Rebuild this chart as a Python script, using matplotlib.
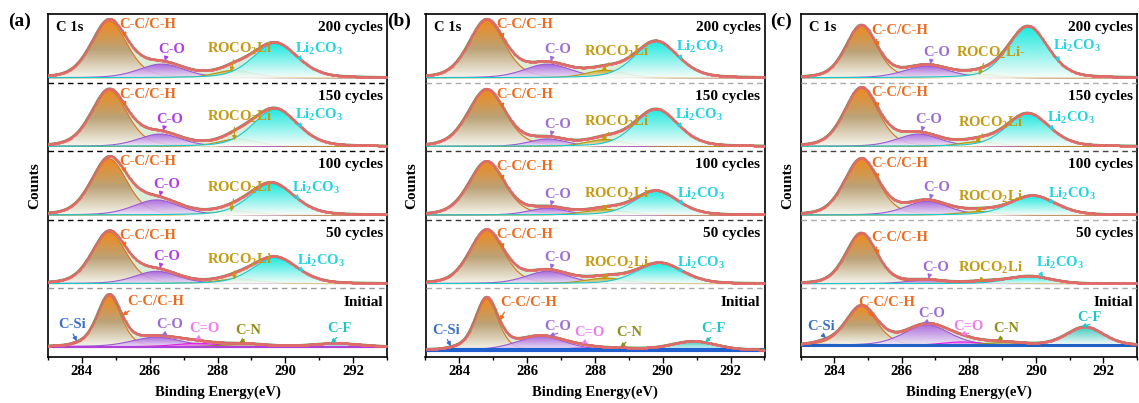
import numpy as np
import matplotlib.pyplot as plt
from matplotlib.colors import LinearSegmentedColormap
from matplotlib.ticker import MultipleLocator

plt.rcParams['font.family'] = 'Liberation Serif'
plt.rcParams['font.weight'] = 'bold'
plt.rcParams['axes.labelweight'] = 'bold'
plt.rcParams['mathtext.fontset'] = 'custom'
plt.rcParams['mathtext.rm'] = 'Liberation Serif:bold'
plt.rcParams['mathtext.it'] = 'Liberation Serif:bold'
plt.rcParams['mathtext.bf'] = 'Liberation Serif:bold'

# binding energy axis (eV)
be = np.linspace(283, 293, 600)

cycles = ['200 cycles', '150 cycles', '100 cycles', '50 cycles']
cyc_peaks = ['C-C/C-H', 'C-O', 'ROCO$_2$Li', 'Li$_2$CO$_3$']
init_peaks = ['C-Si', 'C-C/C-H', 'C-O', 'C=O', 'C-N', 'C-F']

# fitted components, rows = 200 / 150 / 100 / 50 cycles
# columns = C-C/C-H, C-O, ROCO2Li, Li2CO3
pos_a = [[284.8, 286.35, 288.5, 289.7],
         [284.8, 286.3, 288.6, 289.7],
         [284.8, 286.2, 288.5, 289.6],
         [284.8, 286.2, 288.6, 289.7]]
height_a = [[0.83, 0.20, 0.11, 0.50],
            [0.82, 0.18, 0.11, 0.54],
            [0.82, 0.22, 0.06, 0.46],
            [0.75, 0.18, 0.07, 0.38]]
fwhm_a = [[1.25, 1.6, 1.3, 1.55],
          [1.25, 1.5, 1.3, 1.55],
          [1.25, 1.6, 1.4, 1.55],
          [1.2, 1.5, 1.4, 1.55]]

pos_b = [[284.8, 286.6, 288.3, 289.8],
         [284.8, 286.6, 288.3, 289.8],
         [284.8, 286.6, 288.3, 289.8],
         [284.8, 286.6, 288.3, 289.9]]
height_b = [[0.84, 0.20, 0.11, 0.53],
            [0.83, 0.11, 0.10, 0.54],
            [0.78, 0.10, 0.08, 0.35],
            [0.78, 0.18, 0.08, 0.30]]
fwhm_b = [[1.25, 1.6, 1.3, 1.5],
          [1.3, 1.3, 1.3, 1.5],
          [1.25, 1.3, 1.4, 1.5],
          [1.2, 1.5, 1.4, 1.6]]

pos_c = [[284.8, 286.75, 288.4, 289.75],
         [284.8, 286.5, 288.3, 289.75],
         [284.8, 286.75, 288.3, 289.9],
         [284.8, 286.7, 288.4, 289.8]]
height_c = [[0.76, 0.17, 0.05, 0.75],
            [0.85, 0.18, 0.07, 0.48],
            [0.82, 0.20, 0.05, 0.28],
            [0.74, 0.05, 0.03, 0.11]]
fwhm_c = [[1.1, 1.6, 1.2, 1.4],
          [1.2, 1.5, 1.3, 1.5],
          [1.2, 1.5, 1.3, 1.6],
          [1.1, 1.3, 1.3, 1.5]]

# pristine electrode: C-Si, C-C/C-H, C-O, C=O, C-N, C-F
init_pos_a = [283.9, 284.8, 286.2, 287.4, 288.8, 291.5]
init_h_a = [0.02, 0.74, 0.14, 0.05, 0.04, 0.05]
init_fwhm_a = [0.6, 0.85, 1.7, 1.5, 1.5, 1.7]

init_pos_b = [283.9, 284.8, 286.4, 287.6, 288.8, 290.9]
init_h_b = [0.02, 0.75, 0.20, 0.03, 0.02, 0.13]
init_fwhm_b = [0.6, 0.8, 1.7, 1.4, 1.4, 1.6]

init_pos_c = [283.7, 284.8, 286.75, 287.8, 289.0, 291.45]
init_h_c = [0.03, 0.57, 0.30, 0.05, 0.04, 0.27]
init_fwhm_c = [0.8, 1.1, 1.6, 1.4, 1.4, 1.3]


def pv(x, c, h, w, eta=0.3):
    # Gaussian-Lorentzian line shape
    s = w / 2.3548
    g = np.exp(-0.5 * ((x - c) / s) ** 2)
    lor = 1 / (1 + (2 * (x - c) / w) ** 2)
    return h * ((1 - eta) * g + eta * lor)


def grad(top, bottom='#FFFFFF', mid=None):
    cols = [bottom, mid, top] if mid else [bottom, top]
    return LinearSegmentedColormap.from_list('g', cols)


cyc_text = [['#EE6A1C', '#B03CE6', '#C49A10', '#22D3E0'],
            ['#EE6A1C', '#9B6BD6', '#C49A10', '#22D3E0'],
            ['#EE6A1C', '#9B6BD6', '#C49A10', '#22D3E0']]
cyc_line = ['#D9731E', '#9B59D0', '#B8940E', '#1CC8D0']
cyc_cmap = [grad('#F57C00', '#FBF8F2', '#B8986A'),
            grad('#A456DC', '#F1E8FA'),
            grad('#C8A21A', '#F5EFD8'),
            grad('#00E8E0', '#FFFFFF')]

init_text = ['#3A6FC8', '#EE6A1C', '#9B6BD6', '#F07CF0', '#8E8E1A', '#22C4C4']
init_line = ['#2E64C8', '#D9731E', '#9B59D0', '#E020E0', '#8E8E1A', '#1CB8B8']
init_cmap = [grad('#2E64C8', '#D0E0F8'),
             grad('#F57C00', '#FBF8F2', '#B8986A'),
             grad('#A456DC', '#F1E8FA'),
             grad('#E030E0', '#F8D0F8'),
             grad('#9A9A30', '#F0F0D0'),
             grad('#20C0B8', '#FFFFFF')]

# label spots for the pristine spectra (eV, height within the strip)
init_lab = [[(283.7, 0.47), (285.35, 0.81), (286.6, 0.47), (287.6, 0.42), (288.9, 0.39), (291.6, 0.42)],
            [(283.6, 0.39), (285.2, 0.79), (286.9, 0.44), (287.85, 0.35), (289.0, 0.35), (291.5, 0.42)],
            [(283.6, 0.44), (284.7, 0.79), (286.9, 0.64), (288.0, 0.44), (289.1, 0.42), (291.6, 0.57)]]
init_base = [0.15, 0.10, 0.17]
init_base_style = [('#B040D8', 1.6), ('#1F5FD0', 3.0), ('#2060C0', 2.2)]

sep_colors = [['k', 'k', 'k', '#999999'],
              ['#AAAAAA', '#333333', '#333333', '#AAAAAA'],
              ['#AAAAAA', '#444444', '#AAAAAA', '#AAAAAA']]


def draw_peak(ax, y, base, line_col, cmap, z):
    top = base + y.max()
    poly = ax.fill_between(be, base, base + y, facecolor='none', edgecolor='none')
    im = ax.imshow(np.linspace(0, 1, 256).reshape(-1, 1), cmap=cmap,
                   extent=(be[0], be[-1], base, top), origin='lower',
                   aspect='auto', alpha=0.88, zorder=z, interpolation='bilinear')
    im.set_clip_path(poly.get_paths()[0], transform=ax.transData)
    ax.plot(be, base + y, color=line_col, lw=0.8, zorder=z + 0.1)


def tag(ax, text, xy, xytext, color, ha='center', relpos=(0.5, 0.0)):
    ax.annotate(text, xy=xy, xytext=xytext, color=color, fontsize=10.5,
                fontweight='bold', ha=ha, va='center', zorder=9,
                arrowprops=dict(arrowstyle='-|>', color=color, lw=0.9,
                                mutation_scale=6, shrinkA=0, shrinkB=0,
                                relpos=relpos))


def draw_spectrum(ax, comps, base):
    env = sum(comps)
    ax.fill_between(be, base, base + env, color='#B5DDB0', alpha=0.5, lw=0, zorder=1)
    return env


def draw_raw(ax, env, base):
    ax.plot(be, base + env, color='#4E9A4E', lw=1.5, zorder=5)
    ax.plot(be, base + env, ls='none', marker='o', ms=1.9, mew=0,
            color='#E46A6A', alpha=0.7, zorder=6)


panels = [('(a)', pos_a, height_a, fwhm_a, init_pos_a, init_h_a, init_fwhm_a),
          ('(b)', pos_b, height_b, fwhm_b, init_pos_b, init_h_b, init_fwhm_b),
          ('(c)', pos_c, height_c, fwhm_c, init_pos_c, init_h_c, init_fwhm_c)]

fig = plt.figure(figsize=(11.39, 4.03), dpi=100)
lefts = [48, 425.5, 800.7]
widths = [339, 339, 336.3]
letter_x = [8, 387, 770]

for k, (letter, pos, hts, fw, ipos, ih, ifw) in enumerate(panels):
    ax = fig.add_axes([lefts[k] / 1139, 46 / 403, widths[k] / 1139, 343 / 403])

    # cycled electrodes, stacked from the top
    for i in range(4):
        y0 = 4 - i
        base = y0 + 0.07
        comps = [pv(be, pos[i][j], hts[i][j], fw[i][j]) for j in range(4)]
        env = draw_spectrum(ax, comps, base)
        for j in range(4):
            draw_peak(ax, comps[j], base, cyc_line[j], cyc_cmap[j], 2 + j * 0.2)
        draw_raw(ax, env, base)
        ev = lambda x: np.interp(x, be, base + env)

        cols = cyc_text[k]
        # C-C/C-H
        xt = pos[i][0] + 0.3
        tag(ax, cyc_peaks[0], (pos[i][0] + 0.5, ev(pos[i][0] + 0.5)),
            (xt, base + 0.9 * env.max()), cols[0], ha='left', relpos=(0.08, 0.0))
        # C-O
        xt = pos[i][1] + 0.3
        tag(ax, cyc_peaks[1], (pos[i][1] + 0.1, ev(pos[i][1] + 0.1)),
            (xt, ev(pos[i][1] + 0.1) + 0.17), cols[1], relpos=(0.3, 0.0))
        # ROCO2Li
        roco = cyc_peaks[2] + ('-' if (k == 2 and i == 0) else '')
        yt = max(ev(288.65) + 0.15, y0 + 0.3)
        tag(ax, roco, (pos[i][2] - 0.1, base + 0.8 * comps[2].max()),
            (288.65, yt), cols[2], relpos=(0.42, 0.05))
        # Li2CO3, set just clear of the right flank
        yt = base + np.clip(0.85 * hts[i][3], 0.3, 0.46)
        right = be[(be > pos[i][3]) & (base + env > yt - 0.05)]
        xt = max(pos[i][3] + 0.2, (right.max() if right.size else pos[i][3]) + 0.1)
        tag(ax, cyc_peaks[3], (xt + 0.2, ev(xt + 0.2)),
            (xt, yt), cols[3], ha='left', relpos=(0.05, 0.1))

        ax.text(292.88, y0 + 0.8, cycles[i], ha='right', va='center',
                fontsize=11, fontweight='bold', color='k', zorder=9)

    # pristine electrode
    base = init_base[k]
    comps = [pv(be, ipos[j], ih[j], ifw[j]) for j in range(6)]
    env = draw_spectrum(ax, comps, base)
    lc, lw = init_base_style[k]
    ax.plot(be, np.full_like(be, base), color=lc, lw=lw, zorder=2.9)
    for j in [0, 2, 3, 4, 5, 1]:
        draw_peak(ax, comps[j], base, init_line[j], init_cmap[j], 2 + j * 0.15)
    draw_raw(ax, env, base)
    ev = lambda x: np.interp(x, be, base + env)
    for j in range(6):
        lx, ly = init_lab[k][j]
        if j == 0:
            tx = lx + 0.15
        elif j == 1:
            tx = ipos[1] + 0.4
        else:
            tx = lx - 0.25
        tag(ax, init_peaks[j], (tx, ev(tx)), (lx, ly), init_text[j],
            ha='left' if j == 1 else 'center',
            relpos=(0.1, 0.0) if j == 1 else (0.5, 0.0))
    ax.text(292.88, 0.8, 'Initial', ha='right', va='center', fontsize=11,
            fontweight='bold', color='k', zorder=9)

    # strip separators
    for y, c in zip([4, 3, 2, 1], sep_colors[k]):
        ax.axhline(y, color=c, lw=1.0, ls=(0, (4, 3)), zorder=7)

    ax.text(283.25, 4.8, 'C 1s', ha='left', va='center', fontsize=10.5,
            fontweight='bold', zorder=9)

    ax.set_xlim(283, 293)
    ax.set_ylim(0, 5)
    ax.set_yticks([])
    ax.xaxis.set_major_locator(MultipleLocator(2))
    ax.xaxis.set_minor_locator(MultipleLocator(1))
    ax.tick_params(axis='x', which='major', direction='out', length=4,
                   width=1, labelsize=10.5, pad=2)
    ax.tick_params(axis='x', which='minor', direction='out', length=2.5, width=1)
    for lab in ax.get_xticklabels():
        lab.set_fontweight('bold')
    for sp in ax.spines.values():
        sp.set_linewidth(1.2)
    ax.set_xlabel('Binding Energy(eV)', fontsize=10.5, fontweight='bold', labelpad=5)
    ax.set_ylabel('Counts', fontsize=11, fontweight='bold', labelpad=5)

    fig.text(letter_x[k] / 1139, 1 - 21 / 403, letter, fontsize=14,
             fontweight='bold', ha='left', va='center')

fig.savefig('out.png', dpi=100)
